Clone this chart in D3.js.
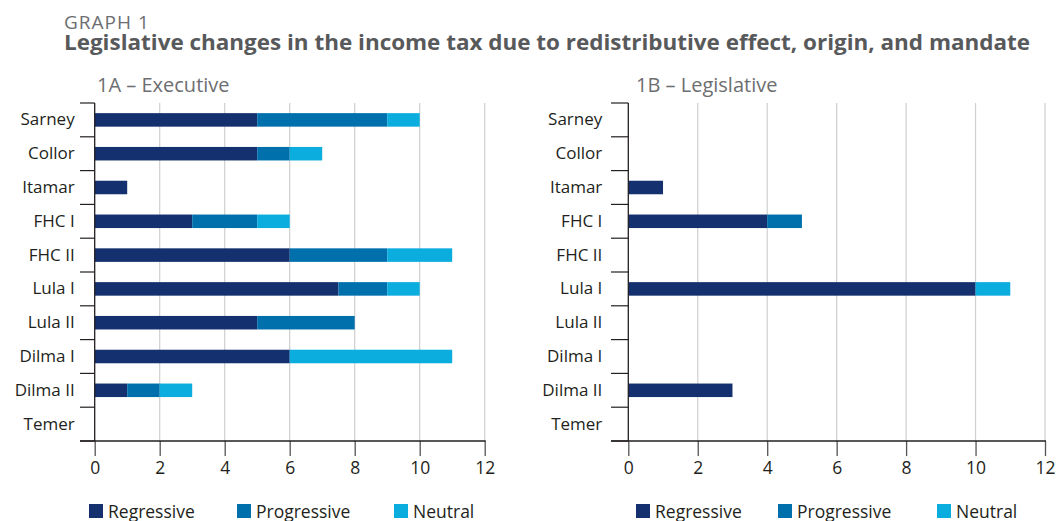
<!DOCTYPE html>
<html>
<head>
<meta charset="utf-8">
<script src="https://cdn.jsdelivr.net/npm/d3@7"></script>
<style>
  body { margin: 0; background: #fff; }
  svg { display: block; font-family: "Open Sans", "Noto Sans", sans-serif; }
</style>
</head>
<body>
<script>
  // data
  const presidents = ["Sarney", "Collor", "Itamar", "FHC I", "FHC II", "Lula I", "Lula II", "Dilma I", "Dilma II", "Temer"];
  const seriesNames = ["Regressive", "Progressive", "Neutral"];
  const seriesColors = ["#15306f", "#0070ad", "#0aadde"];

  const execRegressive = [5, 5, 1, 3, 6, 7.5, 5, 6, 1, 0];
  const execProgressive = [4, 1, 0, 2, 3, 1.5, 3, 0, 1, 0];
  const execNeutral = [1, 1, 0, 1, 2, 1, 0, 5, 1, 0];

  const legRegressive = [0, 0, 1, 4, 0, 10, 0, 0, 3, 0];
  const legProgressive = [0, 0, 0, 1, 0, 0, 0, 0, 0, 0];
  const legNeutral = [0, 0, 0, 0, 0, 1, 0, 0, 0, 0];

  const xTicks = [0, 2, 4, 6, 8, 10, 12];

  const W = 1059, H = 521;
  const svg = d3.select("body").append("svg").attr("width", W).attr("height", H);

  svg.append("text")
    .attr("x", 64).attr("y", 29)
    .attr("font-size", 19).attr("letter-spacing", 1)
    .attr("fill", "#6d6e71")
    .text("GRAPH 1");

  svg.append("text")
    .attr("x", 64).attr("y", 50)
    .attr("font-size", 22).attr("font-weight", "bold")
    .attr("fill", "#58595b")
    .attr("textLength", 966).attr("lengthAdjust", "spacingAndGlyphs")
    .text("Legislative changes in the income tax due to redistributive effect, origin, and mandate");

  const drawPanel = (opts) => {
    const { title, titleX, left, right, axisStart, labelPad, legendX, values } = opts;
    const top = 103, bottom = 441;

    const rows = presidents.map((p, i) => ({
      name: p,
      Regressive: values[0][i],
      Progressive: values[1][i],
      Neutral: values[2][i],
    }));
    const stacked = d3.stack().keys(seriesNames)(rows);

    const x = d3.scaleLinear().domain([0, 12]).range([left, right]);
    const y = d3.scaleBand().domain(presidents).range([top, bottom]).paddingInner(0.6).paddingOuter(0.3);

    const g = svg.append("g");

    g.append("text")
      .attr("x", titleX).attr("y", 92)
      .attr("font-size", 20).attr("fill", "#6d6e71")
      .text(title);

    // gridlines
    g.append("g")
      .selectAll("line")
      .data(xTicks.filter((t) => t > 0))
      .enter()
      .append("line")
      .attr("x1", (d) => x(d)).attr("x2", (d) => x(d))
      .attr("y1", top).attr("y2", bottom)
      .attr("stroke", "#cfcfcf").attr("stroke-width", 1.2);

    // bars
    g.append("g")
      .selectAll("g")
      .data(stacked)
      .enter()
      .append("g")
      .attr("fill", (d, i) => seriesColors[i])
      .selectAll("rect")
      .data((d) => d.filter((s) => s[1] > s[0]))
      .enter()
      .append("rect")
      .attr("x", (d) => x(d[0]))
      .attr("width", (d) => x(d[1]) - x(d[0]))
      .attr("y", (d) => y(d.data.name))
      .attr("height", y.bandwidth());

    // y axis with category separators
    const yAxis = g.append("g")
      .attr("transform", `translate(${left},0)`)
      .call(d3.axisLeft(y).tickSize(0).tickPadding(labelPad));
    yAxis.select(".domain").remove();
    yAxis.selectAll("text")
      .attr("font-size", 17).attr("fill", "#231f20")
      .attr("font-family", "Open Sans, Noto Sans, sans-serif");

    const bounds = d3.range(presidents.length + 1).map((i) => top + i * y.step());
    g.append("g")
      .selectAll("line")
      .data(bounds)
      .enter()
      .append("line")
      .attr("x1", axisStart).attr("x2", left)
      .attr("y1", (d) => d).attr("y2", (d) => d)
      .attr("stroke", "#231f20").attr("stroke-width", 1.2);

    g.append("line")
      .attr("x1", left).attr("x2", left)
      .attr("y1", top).attr("y2", bottom)
      .attr("stroke", "#231f20").attr("stroke-width", 1.3);

    // x axis
    const xAxis = g.append("g")
      .attr("transform", `translate(0,${bottom})`)
      .call(d3.axisBottom(x).tickValues(xTicks).tickSize(15).tickPadding(6));
    xAxis.select(".domain").remove();
    xAxis.selectAll(".tick line").attr("stroke", "#555").attr("stroke-width", 1.3);
    xAxis.selectAll("text")
      .attr("font-size", 17.5).attr("fill", "#231f20")
      .attr("font-family", "Open Sans, Noto Sans, sans-serif");
    g.append("line")
      .attr("x1", axisStart).attr("x2", right + 1)
      .attr("y1", bottom).attr("y2", bottom)
      .attr("stroke", "#231f20").attr("stroke-width", 1.3);

    // legend
    const legend = g.append("g")
      .selectAll("g")
      .data(seriesNames)
      .enter()
      .append("g")
      .attr("transform", (d, i) => `translate(${legendX[i]},504)`);
    legend.append("rect")
      .attr("width", 14).attr("height", 14)
      .attr("fill", (d, i) => seriesColors[i]);
    legend.append("text")
      .attr("x", 19).attr("y", 14)
      .attr("font-size", 17.5).attr("fill", "#231f20")
      .text((d) => d);
  };

  drawPanel({
    title: "1A – Executive",
    titleX: 97,
    left: 94.7,
    right: 484.7,
    axisStart: 80,
    labelPad: 20,
    legendX: [89, 237, 394],
    values: [execRegressive, execProgressive, execNeutral],
  });

  drawPanel({
    title: "1B – Legislative",
    titleX: 636,
    left: 628.3,
    right: 1045,
    axisStart: 611,
    labelPad: 26,
    legendX: [636, 778, 937],
    values: [legRegressive, legProgressive, legNeutral],
  });
</script>
</body>
</html>
